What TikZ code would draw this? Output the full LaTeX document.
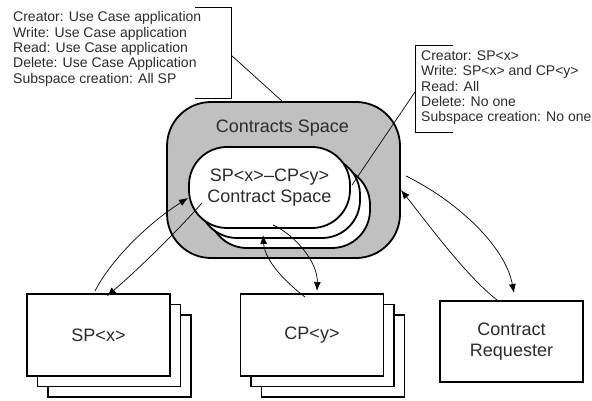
\documentclass[tikz,border=0pt]{standalone}
\usepackage{fontspec}
\setmainfont{Liberation Sans}
\usetikzlibrary{arrows.meta}
\definecolor{txt}{HTML}{2B2B2B}
\definecolor{spacegray}{HTML}{C0C0C0}
\begin{document}
\begin{tikzpicture}[x=1pt,y=-1pt,
  card/.style={draw, line width=1.8pt, fill=white, minimum width=143pt,
    minimum height=82pt, inner sep=0pt, text=txt, align=center,
    font=\fontsize{18}{21}\selectfont},
  subspace/.style={draw, line width=1.8pt, fill=white, rounded corners=38pt,
    minimum width=161pt, minimum height=81pt, inner sep=0pt, text=txt,
    align=center, font=\fontsize{18}{21}\selectfont},
  note/.style={inner sep=0pt, anchor=north west, align=left, text=txt,
    font=\fontsize{14}{15.3}\selectfont},
  bracket/.style={line width=0.9pt},
  link/.style={line width=0.7pt},
  flow/.style={line width=0.7pt, -{Latex[length=9pt,width=7pt]}}]

\useasboundingbox (0,0) rectangle (592,401);

% contracts space with the stacked contract subspaces
\node[draw, line width=1.8pt, fill=spacegray, rounded corners=44pt,
  minimum width=233pt, minimum height=156pt] (space) at (283.5,180) {};
\node[text=txt, font=\fontsize{18}{21}\selectfont] (spacelbl) at (282.5,128) {Contracts Space};
\node[subspace] (sub3) at (289.5,207.5) {};
\node[subspace] (sub2) at (279.5,197.5) {};
\node[subspace] (sub1) at (269.5,187.5) {SP<x>–CP<y>\\Contract Space};

% participants
\node[card] (sp3) at (119.5,356) {};
\node[card] (sp2) at (109,345.5) {};
\node[card] (sp) at (98.5,335) {SP<x>};
\node[card] (cp3) at (333,356) {};
\node[card] (cp2) at (322.5,345.5) {};
\node[card] (cp) at (312,335) {CP<y>};
\node[card, minimum height=81pt] (cr) at (511.5,341.5) {Contract\\Requester};

% access rules
\node[note] (spacerules) at (13,11.5) {Creator: Use Case application\\Write: Use Case application\\Read: Use Case application\\Delete: Use Case Application\\Subspace creation: All SP};
\node[note] (subrules) at (421,50.5) {Creator: SP<x>\\Write: SP<x> and CP<y>\\Read: All\\Delete: No one\\Subspace creation: No one};

\coordinate (lbT) at (195,7);
\coordinate (lbB) at (195,98);
\coordinate (lbX) at (231,55);
\coordinate (lbE) at (283,102);
\draw[bracket] (lbT) -| (231,98) -- (lbB);
\draw[link] (lbX) -- (lbE);

\coordinate (rbT) at (453,45);
\coordinate (rbB) at (453,132);
\coordinate (rbX) at (415,92);
\coordinate (rbE) at (352,185);
\draw[bracket] (rbT) -| (415,132) -- (rbB);
\draw[link] (rbX) -- (rbE);

% interactions
\coordinate (spOut) at (95,291);
\coordinate (subInL) at (188,198);
\coordinate (subOutL) at (202,203);
\coordinate (spIn) at (107,296);
\draw[flow] (spOut) .. controls (112,258) and (150,222) .. (subInL);
\draw[flow] (subOutL) .. controls (180,228) and (140,268) .. (spIn);

\coordinate (cpOut) at (305,297);
\coordinate (subInB) at (263,235);
\coordinate (subOutB) at (273,225);
\coordinate (cpIn) at (317,291);
\draw[flow] (cpOut) .. controls (288,284) and (265,262) .. (subInB);
\draw[flow] (subOutB) .. controls (295,235) and (318,262) .. (cpIn);

\coordinate (crOut) at (497,300);
\coordinate (spaceIn) at (401,190);
\coordinate (spaceOut) at (406,176);
\coordinate (crIn) at (514,293);
\draw[flow] (crOut) .. controls (465,275) and (425,220) .. (spaceIn);
\draw[flow] (spaceOut) .. controls (455,200) and (505,245) .. (crIn);
\end{tikzpicture}
\end{document}
